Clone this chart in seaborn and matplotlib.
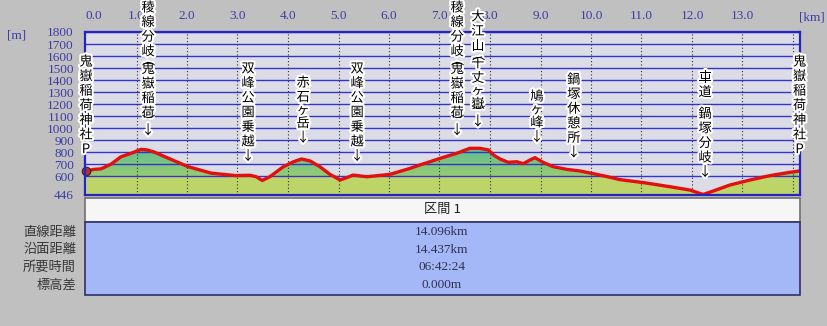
import numpy as np
import pandas as pd
import matplotlib
matplotlib.use("Agg")
import matplotlib.pyplot as plt
import seaborn as sns
import matplotlib.transforms as mtrans
from matplotlib import patheffects as pe
from matplotlib.patches import Rectangle
from matplotlib.colors import LinearSegmentedColormap

# ---------------- data ----------------
dist_km = [0.00, 0.15, 0.30, 0.50, 0.69, 0.89, 1.09, 1.20, 1.35, 1.56, 2.02, 2.48,
           2.95, 3.25, 3.37, 3.49, 3.64, 3.91, 4.11, 4.27, 4.44, 4.63, 4.83, 5.03,
           5.16, 5.29, 5.56, 5.89, 6.02, 6.42, 6.61, 6.81, 7.01, 7.34, 7.60, 7.80,
           7.97, 8.07, 8.20, 8.36, 8.53, 8.66, 8.79, 8.89, 9.05, 9.25, 9.51, 9.78,
           10.04, 10.31, 10.57, 11.04, 11.56, 11.96, 12.22, 12.42, 12.75, 13.15,
           13.54, 13.94, 14.10]
elev_m = [640, 655, 660, 700, 760, 789, 822, 818, 800, 761, 678, 624,
          604, 606, 594, 563, 594, 678, 719, 742, 725, 678, 614, 567,
          586, 608, 594, 608, 614, 664, 692, 719, 747, 789, 831, 831,
          817, 775, 742, 714, 719, 703, 733, 753, 714, 678, 656, 642,
          620, 596, 570, 545, 511, 483, 446, 475, 525, 567,
          603, 631, 640]

wp_names = ["鬼嶽稲荷神社P", "稜線分岐(鬼嶽稲荷)↓", "双峰公園乗越↓", "赤石ヶ岳↓",
            "双峰公園乗越↓", "稜線分岐(鬼嶽稲荷)↓", "大江山(千丈ヶ嶽)↓", "鳩ヶ峰↓",
            "鍋塚休憩所↓", "車道 鍋塚分岐↓", "鬼嶽稲荷神社P"]
wp_km = [0.0, 1.23, 3.21, 4.30, 5.37, 7.35, 7.76, 8.93, 9.66, 12.26, 14.13]
wp_top_px = [62, 8, 69, 83, 69, 8, 17, 97, 80, 78, 62]   # layout: first glyph centre (px from top)

x_ticks = list(range(0, 14))
x_tick_labels = [f"{v:.1f}" for v in x_ticks]
y_ticks = [1800, 1700, 1600, 1500, 1400, 1300, 1200, 1100, 1000, 900, 800, 700, 600, 446]
y_min, y_max = 446, 1800

section_title = "区間 1"
row_labels = ["直線距離", "沿面距離", "所要時間", "標高差"]
row_values = ["14.096km", "14.437km", "06:42:24", "0.000m"]

# ---------------- figure ----------------
W, H = 827, 326
BG = "#c0c0c0"
TICK_C = "#3c3ca8"
CJK = ["Noto Sans CJK JP", "DejaVu Sans"]
SERIF = ["Liberation Serif", "DejaVu Serif"]
plt.rcParams["font.family"] = CJK

fig = plt.figure(figsize=(W / 100, H / 100), dpi=100, facecolor=BG)
def fx(px): return px / W
def fy(py): return 1 - py / H

PX_PER_KM = 50.5
ax_l, ax_r, ax_t, ax_b = 85, 800, 32, 194.5
ax = fig.add_axes([fx(ax_l), fy(ax_b), (ax_r - ax_l) / W, (ax_b - ax_t) / H])
ax.set_facecolor("#dcdce6")
xmin = -1 / PX_PER_KM
xmax = xmin + (ax_r - ax_l) / PX_PER_KM

df = pd.DataFrame({"dist": dist_km, "elev": elev_m})
x = df["dist"].to_numpy(dtype=float)
y = df["elev"].to_numpy(dtype=float)

# lower yellow-green band
ax.fill_between(x, y_min, np.minimum(y, 600), color="#bcd468", lw=0, zorder=2)
# upper gradient green
poly = ax.fill_between(x, 600, np.maximum(y, 600), facecolor="none", lw=0, zorder=2)
cmap = LinearSegmentedColormap.from_list("g", ["#96cc72", "#5cbe92"])
grad = np.linspace(0, 1, 256).reshape(-1, 1)
im = ax.imshow(grad, extent=[xmin, xmax, 600, 840], origin="lower", aspect="auto",
               cmap=cmap, zorder=2, interpolation="bilinear")
im.set_clip_path(poly.get_paths()[0], transform=ax.transData)

# grid
for v in range(600, 1801, 100):
    ax.axhline(v, color="#3434c8", lw=1.0, zorder=3)
for k in range(1, 15):
    ax.axvline(k, color="#303030", lw=0.8, ls=(0, (1, 2)), zorder=3)

# profile line
sns.lineplot(data=df, x="dist", y="elev", ax=ax, color="#e41010", lw=2.4,
             zorder=5, legend=False)
# hiker marker at start
ax.scatter([x[0]], [y[0]], s=38, marker="o", color="#b03030", edgecolors="#402020",
           linewidths=0.8, zorder=6, clip_on=False)

ax.set_xlim(xmin, xmax)
ax.set_ylim(y_min, y_max)
ax.set_xlabel("")
ax.set_ylabel("")
for s in ax.spines.values():
    s.set_color("#2424c0")
    s.set_linewidth(1.6)
    s.set_zorder(7)

ax.xaxis.tick_top()
ax.set_xticks(x_ticks)
ax.set_xticklabels(x_tick_labels)
ax.set_yticks(y_ticks)
ax.set_yticklabels([str(v) for v in y_ticks])
ax.tick_params(axis="both", length=0, colors=TICK_C, labelsize=9.5)
ax.tick_params(axis="x", pad=7)
ax.tick_params(axis="y", pad=8)
for lbl in ax.get_xticklabels() + ax.get_yticklabels():
    lbl.set_family(SERIF)
ax.get_xticklabels()[0].set_ha("left")
ax.get_xticklabels()[0].set_x(0.05)

fig.text(fx(17), fy(35), "[m]", color=TICK_C, family=SERIF, fontsize=9.5,
         ha="center", va="center")
fig.text(fx(812), fy(17), "[km]", color=TICK_C, family=SERIF, fontsize=9.5,
         ha="center", va="center")

# vertical waypoint labels
trans = mtrans.blended_transform_factory(ax.transData, fig.transFigure)
halo = [pe.withStroke(linewidth=3, foreground="white")]
STEP = 14.6
VERT = {"(": "\ufe35", ")": "\ufe36"}
for name, km, top in zip(wp_names, wp_km, wp_top_px):
    yy = top
    chars = list(name)
    for i, ch in enumerate(chars):
        if ch == "(":
            yy += 3
            ax.text(km, fy(yy - 9), VERT[ch], transform=trans, ha="center",
                    va="center", fontsize=9.5, color="black",
                    zorder=9, clip_on=False)
            continue
        if ch == ")":
            ax.text(km, fy(yy - STEP + 9), VERT[ch], transform=trans,
                    ha="center", va="center", fontsize=9.5, color="black",
                    zorder=9, clip_on=False)
            yy += 3
            continue
        if ch == " ":
            yy += 7
            continue
        ax.text(km, fy(yy), ch, transform=trans, ha="center", va="center",
                fontsize=9.5, color="black", path_effects=halo, zorder=8,
                clip_on=False)
        nxt = chars[i + 1] if i + 1 < len(chars) else ""
        yy += 13 if ("ヶ" in (ch, nxt)) else STEP

# ---------------- bottom table ----------------
def rect(x0, y0, x1, y1, fc, ec, lw=1.0):
    fig.patches.append(Rectangle((fx(x0), fy(y1)), (x1 - x0) / W, (y1 - y0) / H,
                                 transform=fig.transFigure, facecolor=fc,
                                 edgecolor=ec, lw=lw))

rect(85, 198, 800, 222, "#f6f6f6", "#707070", 1.2)
fig.text(fx(442), fy(210), section_title, ha="center", va="center", fontsize=9.5,
         color="#202020")
rect(85, 222, 800, 295, "#a4b8f8", "#303068", 1.2)
row_y = [232, 250, 267.5, 285.5]
for lab, val, ry in zip(row_labels, row_values, row_y):
    fig.text(fx(76), fy(ry), lab, ha="right", va="center", fontsize=9.5,
             color="#383838")
    fig.text(fx(442), fy(ry), val, ha="center", va="center", fontsize=9.5,
             color="#303050", family=SERIF)

fig.savefig("out.png", dpi=100, facecolor=BG)
